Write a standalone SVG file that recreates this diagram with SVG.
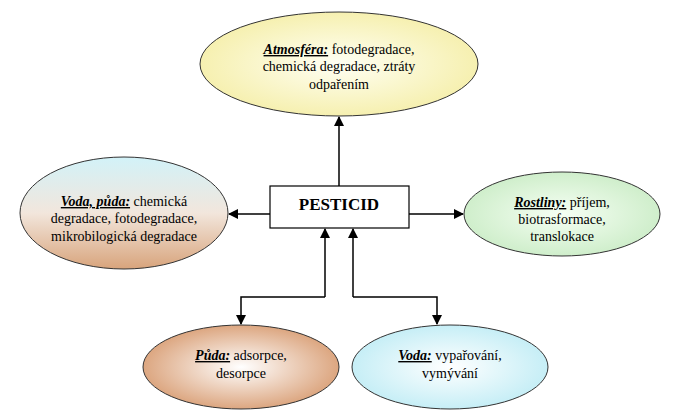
<svg xmlns="http://www.w3.org/2000/svg" width="675" height="420" viewBox="0 0 675 420" font-family="'Liberation Serif', 'DejaVu Serif', serif" font-size="14">
<style>
text{fill:#000;text-anchor:middle}
.h{font-style:italic;font-weight:bold;text-decoration:underline}
.e{stroke:#333;stroke-width:1}
.c{stroke:#000;stroke-width:1.5;fill:none;marker-end:url(#a)}
</style>
<defs>
<marker id="a" markerWidth="10" markerHeight="10" refX="9" refY="5" orient="auto" markerUnits="userSpaceOnUse"><path d="M0,0L10,5L0,10z"/></marker>
<radialGradient id="gy"><stop offset="0" stop-color="#fffff4"/><stop offset="1" stop-color="#f6f0b0"/></radialGradient>
<radialGradient id="gg"><stop offset="0" stop-color="#f6fff4"/><stop offset="1" stop-color="#cfeecb"/></radialGradient>
<radialGradient id="gb"><stop offset="0" stop-color="#ffffff"/><stop offset="1" stop-color="#c6eef6"/></radialGradient>
<radialGradient id="go"><stop offset="0" stop-color="#ffffff"/><stop offset="1" stop-color="#dca680"/></radialGradient>
<linearGradient id="gv" x1="0" y1="0" x2="0" y2="1"><stop offset="0" stop-color="#d2f2f8"/><stop offset="0.5" stop-color="#f2e6dc"/><stop offset="1" stop-color="#d8a47c"/></linearGradient>
</defs>
<rect width="675" height="420" fill="#fff"/>
<g id="connectors">
<path class="c" d="M339,186V117"/>
<path class="c" d="M270,214H229"/>
<path class="c" d="M409,214H463"/>
<path class="c" d="M325,297V229"/>
<path class="c" d="M353,297V229"/>
<path class="c" d="M325,297H241V324"/>
<path class="c" d="M353,297H437V324"/>
</g>
<g id="atmosfera"><ellipse class="e" cx="339" cy="64" rx="139" ry="52" fill="url(#gy)"/>
<text x="339" y="54"><tspan class="h">Atmosféra:</tspan> fotodegradace,</text>
<text x="339" y="71">chemická degradace, ztráty</text>
<text x="339" y="89">odpařením</text></g>
<g id="vodapuda"><ellipse class="e" cx="124" cy="213" rx="104" ry="56" fill="url(#gv)"/>
<text x="124" y="206"><tspan class="h">Voda, půda:</tspan> chemická</text>
<text x="124" y="223">degradace, fotodegradace,</text>
<text x="124" y="241">mikrobilogická degradace</text></g>
<g id="pesticid"><rect x="270" y="186" width="139" height="42" fill="#fff" stroke="#000" stroke-width="1.2"/>
<text x="339" y="210" font-weight="bold" font-size="17">PESTICID</text></g>
<g id="rostliny"><ellipse class="e" cx="562" cy="214" rx="98" ry="42" fill="url(#gg)"/>
<text x="562" y="207"><tspan class="h">Rostliny:</tspan> příjem,</text>
<text x="562" y="224">biotrasformace,</text>
<text x="562" y="241">translokace</text></g>
<g id="puda"><ellipse class="e" cx="241" cy="367" rx="98" ry="42" fill="url(#go)"/>
<text x="241" y="360"><tspan class="h">Půda:</tspan> adsorpce,</text>
<text x="241" y="378">desorpce</text></g>
<g id="voda"><ellipse class="e" cx="450" cy="367" rx="98" ry="42" fill="url(#gb)"/>
<text x="450" y="360"><tspan class="h">Voda:</tspan> vypařování,</text>
<text x="450" y="378">vymývání</text></g>
</svg>
